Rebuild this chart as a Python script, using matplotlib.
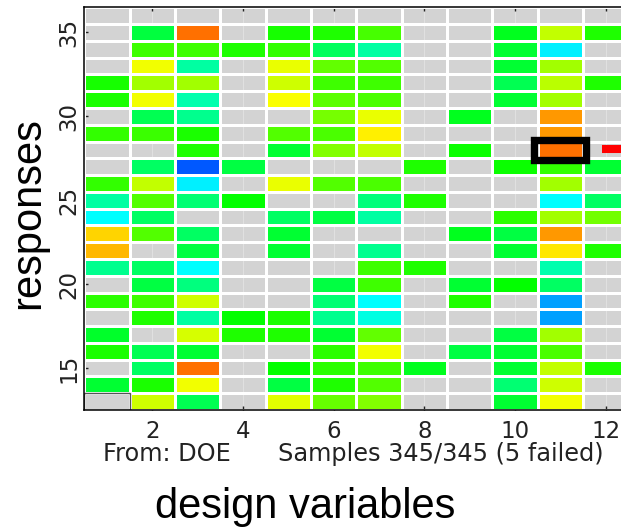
import numpy as np
import matplotlib
matplotlib.use('Agg')
from matplotlib import pyplot as plt
from matplotlib.colors import ListedColormap, hsv_to_rgb
from matplotlib.patches import Rectangle

N = np.nan

# design variables (columns) and responses (rows, top to bottom)
design_vars = np.arange(1, 13)
responses = np.arange(36, 12, -1)

# normalised response value per cell, NaN = failed / missing sample
values = np.array([
    [N,    N,    N,    N,    N,    N,    N,    N,    N,    N,    N,    N],     # 36
    [N,    .44,  .89,  N,    .52,  .53,  .57,  N,    N,    .47,  .69,  .53],   # 35
    [N,    .56,  .56,  .53,  .55,  .41,  .34,  N,    N,    .45,  .235, N],     # 34
    [N,    .735, .34,  N,    .727, .594, .58,  N,    N,    .45,  .66,  N],     # 33
    [.52,  .66,  .66,  N,    .70,  .56,  .56,  N,    N,    .42,  .68,  .53],   # 32
    [.524, .735, .33,  N,    .743, .586, .571, N,    N,    .45,  .66,  N],     # 31
    [N,    .42,  .36,  N,    N,    .617, .727, N,    .47,  N,    .85,  N],     # 30
    [.547, .555, .524, N,    .58,  .571, .765, N,    N,    N,    .85,  N],     # 29
    [N,    N,    .53,  N,    .453, .625, .69,  N,    .508, N,    .89,  N],     # 28
    [N,    .405, .086, .437, N,    N,    N,    .53,  N,    .508, .547, .453],  # 27
    [.547, .69,  .235, N,    .727, .58,  .571, N,    N,    N,    .66,  N],     # 26
    [.343, .58,  .39,  .50,  N,    N,    .38,  .53,  N,    N,    .25,  .405],  # 25
    [.25,  .405, N,    N,    .405, .437, .343, N,    N,    .54,  .66,  .61],   # 24
    [.79,  .58,  .405, N,    .453, N,    N,    N,    .47,  .437, .85,  N],     # 23
    [.82,  N,    .437, N,    .453, N,    .36,  N,    N,    .453, .77,  .53],   # 22
    [.36,  .405, .25,  N,    N,    N,    .56,  .53,  N,    N,    .33,  N],     # 21
    [N,    .437, .375, N,    N,    .437, .56,  N,    .453, .50,  .405, N],     # 20
    [.54,  .56,  .70,  N,    N,    .39,  .25,  N,    .53,  N,    .16,  N],     # 19
    [N,    .53,  .343, .50,  .524, .36,  .28,  N,    N,    N,    .16,  N],     # 18
    [.46,  N,    .71,  .53,  .53,  .453, .594, N,    N,    .437, .66,  N],     # 17
    [.524, .42,  .453, N,    N,    .54,  .735, N,    .437, .453, .571, N],     # 16
    [N,    .405, .89,  N,    .50,  .54,  .56,  .47,  N,    .453, .69,  .524],  # 15
    [.453, .524, .735, N,    .437, .53,  .58,  N,    N,    .39,  .70,  N],     # 14
    [N,    .70,  .42,  N,    .72,  .60,  .625, N,    N,    .453, .735, N],     # 13
])

# highlighted cell (design variable, response)
selected = (11, 28)

# blue -> cyan -> green -> yellow -> red
hues = np.linspace(2 / 3, 0, 256)
cmap = ListedColormap(hsv_to_rgb(np.column_stack([hues, np.ones(256), np.ones(256)])))
gray = ListedColormap(['#d3d3d3'])

W, H = 621, 529
fig = plt.figure(figsize=(W / 100, H / 100), dpi=100)
ax = fig.add_axes([84.3 / W, 1 - 410 / H, 12 * 45.34 / W, (410 - 7.3) / H])

x_edges = np.append(design_vars - 0.5, design_vars[-1] + 0.5)
y_edges = np.append(responses + 0.5, responses[-1] - 0.5)

failed = np.where(np.isnan(values), 1.0, np.nan)
ax.pcolormesh(x_edges, y_edges, np.ma.masked_invalid(failed), cmap=gray,
              edgecolors='white', linewidth=0.8, zorder=1)
ax.pcolormesh(x_edges, y_edges, np.ma.masked_invalid(values), cmap=cmap,
              vmin=0, vmax=1, edgecolors='white', linewidth=0.8, zorder=3)

ax.set_xlim(0.5, 12.5)
ax.set_ylim(12.5, 36.5)
ax.set_xticks(np.arange(2, 13, 2))
ax.set_yticks(np.arange(15, 36, 5))
ax.grid(True, axis='x', color='#e0e0e0', linewidth=0.8, zorder=2)
ax.set_axisbelow(False)

# selection box and marker
sx, sy = selected
ax.add_patch(Rectangle((sx - 0.575, sy - 0.63), 1.15, 1.25, fill=False,
                       edgecolor='black', linewidth=5.3, zorder=5))
ax.plot([sx + 0.91, sx + 1.6], [sy + 0.04, sy + 0.04], color='red',
        linewidth=5.8, solid_capstyle='butt', zorder=5)
ax.add_patch(Rectangle((0.5, 12.5), 1, 1, fill=False, edgecolor='#555555',
                       linewidth=1.0, zorder=4))

for side in ['left', 'top', 'bottom']:
    ax.spines[side].set_linewidth(1.1)
    ax.spines[side].set_zorder(6)
ax.spines['right'].set_visible(False)

ax.tick_params(axis='both', direction='in', length=3, width=1, colors='#222222',
               labelsize=16.5, top=True, right=False)
ax.tick_params(axis='x', pad=7)
ax.tick_params(axis='y', pad=3)
for lab in ax.get_yticklabels():
    lab.set_rotation(90)
    lab.set_va('center')

fig.text(103.3 / W, 1 - 461 / H, 'From: DOE', fontsize=17.3, color='#222222',
         va='baseline', ha='left')
fig.text(278 / W, 1 - 461 / H, 'Samples 345/345 (5 failed)', fontsize=17.3,
         color='#222222', va='baseline', ha='left')
fig.text(155 / W, 1 - 518.3 / H, 'design variables', fontsize=30,
         family='Liberation Sans', va='baseline', ha='left')
fig.text(28.5 / W, 1 - 213.5 / H, 'responses', fontsize=30,
         family='Liberation Sans', rotation=90, va='center', ha='center')

fig.savefig('out.png', dpi=100)
